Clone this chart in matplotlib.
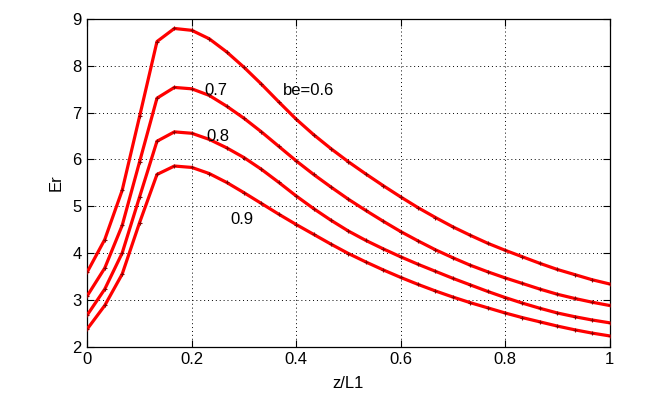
import matplotlib
matplotlib.use("Agg")
import matplotlib.pyplot as plt

plt.rcParams['font.family'] = ['Liberation Sans', 'DejaVu Sans']

z = [i / 30 for i in range(31)]

er_06 = [3.60, 4.29, 5.34, 6.92, 8.52, 8.80, 8.76, 8.58, 8.30, 7.97, 7.61,
         7.23, 6.86, 6.53, 6.23, 5.95, 5.69, 5.44, 5.20, 4.97, 4.76,
         4.56, 4.38, 4.21, 4.06, 3.92, 3.78, 3.65, 3.54, 3.43, 3.34]
er_07 = [3.09, 3.68, 4.59, 5.95, 7.31, 7.54, 7.51, 7.37, 7.14, 6.88, 6.59,
         6.28, 5.97, 5.68, 5.41, 5.15, 4.91, 4.68, 4.46, 4.26, 4.07,
         3.90, 3.74, 3.60, 3.47, 3.35, 3.23, 3.12, 3.03, 2.95, 2.88]
er_08 = [2.68, 3.23, 4.00, 5.20, 6.39, 6.59, 6.56, 6.43, 6.25, 6.04, 5.79,
         5.51, 5.22, 4.95, 4.70, 4.47, 4.27, 4.09, 3.92, 3.76, 3.61,
         3.46, 3.32, 3.18, 3.05, 2.93, 2.82, 2.72, 2.64, 2.57, 2.51]
er_09 = [2.38, 2.88, 3.55, 4.65, 5.68, 5.86, 5.83, 5.70, 5.51, 5.29, 5.06,
         4.83, 4.61, 4.40, 4.19, 3.99, 3.81, 3.64, 3.48, 3.33, 3.19,
         3.06, 2.94, 2.83, 2.72, 2.62, 2.53, 2.44, 2.36, 2.29, 2.23]

series = [er_06, er_07, er_08, er_09]
labels = ["be=0.6", "0.7", "0.8", "0.9"]
label_pos = [(0.375, 7.48), (0.225, 7.48), (0.228, 6.49), (0.274, 4.72)]

x_ticks = [0, 0.2, 0.4, 0.6, 0.8, 1]
x_tick_labels = ["0", "0.2", "0.4", "0.6", "0.8", "1"]
y_ticks = [2, 3, 4, 5, 6, 7, 8, 9]

fig = plt.figure(figsize=(6.72, 3.98), dpi=100)
ax = fig.add_axes([0.130, 0.129, 0.777, 0.823])

for s in series:
    ax.plot(z, s, color='#ff0000', lw=2.3, solid_joinstyle='round', zorder=3)
    ax.plot(z, s, ls='none', marker='+', ms=3.0, mew=0.8, color='#8b0000', zorder=4)

for t, (xx, yy) in zip(labels, label_pos):
    ax.text(xx, yy, t, fontsize=12, ha='left', va='center', color='black')

ax.set_xlim(0, 1)
ax.set_ylim(2, 9)
ax.set_xticks(x_ticks)
ax.set_xticklabels(x_tick_labels)
ax.set_yticks(y_ticks)
ax.tick_params(direction='in', length=5, width=0.8, top=True, right=True,
               labelsize=12, pad=4)
ax.grid(True, linestyle=(0, (1, 3)), color='black', linewidth=0.7)
for sp in ax.spines.values():
    sp.set_linewidth(0.9)

ax.set_xlabel("z/L1", fontsize=12, labelpad=6)
ax.set_ylabel("Er", fontsize=12, labelpad=6)

fig.savefig("out.png", dpi=100)
